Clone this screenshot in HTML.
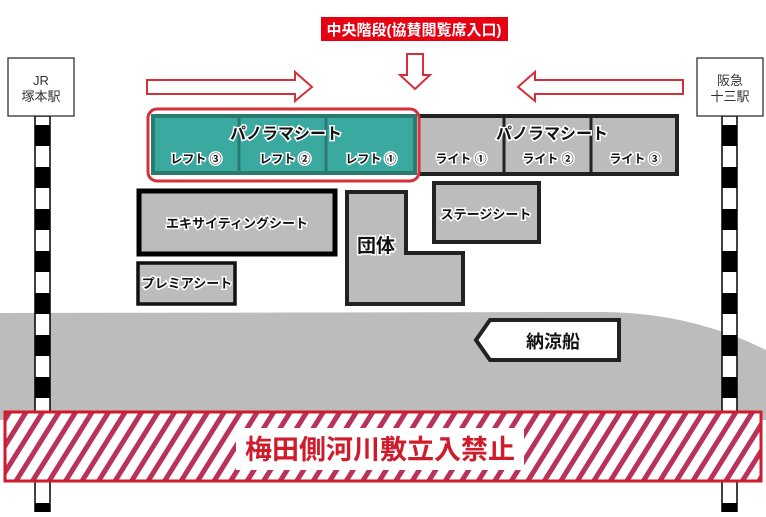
<!DOCTYPE html>
<html><head><meta charset="utf-8"><style>
body{margin:0;background:#fff;}
svg text{font-family:"Liberation Sans","Noto Sans CJK JP",sans-serif;}
</style></head><body>
<svg width="766" height="512" viewBox="0 0 766 512" xmlns="http://www.w3.org/2000/svg">
<defs>
<pattern id="st" width="14" height="14" patternUnits="userSpaceOnUse" patternTransform="rotate(32)">
<rect width="14" height="14" fill="#fff"/><rect width="5" height="14" fill="#b8325a"/>
</pattern>
<pattern id="pole" width="16" height="42" patternUnits="userSpaceOnUse" y="125">
<rect width="16" height="42" fill="#fff"/><rect width="16" height="21" fill="#000"/>
</pattern>
</defs>
<!-- river -->
<path d="M0 313 L600 312 Q690 312 766 350 L766 420 L0 420 Z" fill="#bcbcbc"/>
<!-- poles -->
<rect x="35" y="116" width="15" height="396" fill="url(#pole)" stroke="#000" stroke-width="1.5"/>
<rect x="722" y="116" width="15" height="396" fill="url(#pole)" stroke="#000" stroke-width="1.5"/>
<!-- station boxes -->
<rect x="8" y="58" width="66" height="58" fill="#fff" stroke="#222" stroke-width="1.2"/>
<text x="41" y="85" font-size="13" text-anchor="middle" fill="#333">JR</text>
<text x="41" y="101" font-size="13" text-anchor="middle" fill="#333">塚本駅</text>
<rect x="697" y="58" width="66" height="58" fill="#fff" stroke="#222" stroke-width="1.2"/>
<text x="730" y="85" font-size="13" text-anchor="middle" fill="#333">阪急</text>
<text x="730" y="101" font-size="13" text-anchor="middle" fill="#333">十三駅</text>
<!-- top label -->
<rect x="321" y="17" width="187" height="24" fill="#e60012"/>
<text x="414" y="35" font-size="15" font-weight="bold" text-anchor="middle" fill="#fff">中央階段(協賛閲覧席入口)</text>
<!-- arrows -->
<path d="M147 80 H295 V72 L312 87 L295 101 V94 H147 Z" fill="#fff" stroke="#d3303a" stroke-width="2"/>
<path d="M683 80 H535 V72 L518 87 L535 101 V94 H683 Z" fill="#fff" stroke="#d3303a" stroke-width="2"/>
<path d="M407 54 H423 V75 L430 75 L415 89 L400 75 L407 75 Z" fill="#fff" stroke="#d3303a" stroke-width="2"/>
<!-- gray panorama -->
<rect x="418" y="116" width="259" height="58" fill="#bcbcbc" stroke="#222" stroke-width="4"/>
<line x1="504" y1="116" x2="504" y2="174" stroke="#222" stroke-width="3"/>
<line x1="591" y1="116" x2="591" y2="174" stroke="#222" stroke-width="3"/>
<g font-size="16" font-weight="bold" fill="#111" stroke="#fff" stroke-width="3" paint-order="stroke" text-anchor="middle">
<text x="552" y="139">パノラマシート</text>
<text x="461" y="163" font-size="12">ライト ①</text>
<text x="548" y="163" font-size="12">ライト ②</text>
<text x="635" y="163" font-size="12">ライト ③</text>
</g>
<!-- teal panorama -->
<rect x="148" y="109" width="271" height="72" rx="9" fill="#fff" stroke="#d3303a" stroke-width="3"/>
<rect x="153" y="116" width="262" height="57" fill="#3aa9a0" stroke="#2a7a70" stroke-width="4"/>
<line x1="239" y1="116" x2="239" y2="173" stroke="#2a7a70" stroke-width="3"/>
<line x1="326" y1="116" x2="326" y2="173" stroke="#2a7a70" stroke-width="3"/>
<g font-size="16" font-weight="bold" fill="#111" stroke="#fff" stroke-width="3" paint-order="stroke" text-anchor="middle">
<text x="286" y="139">パノラマシート</text>
<text x="196" y="163" font-size="12">レフト ③</text>
<text x="285" y="163" font-size="12">レフト ②</text>
<text x="371" y="163" font-size="12">レフト ①</text>
</g>
<!-- seats -->
<rect x="139" y="191" width="196" height="63" fill="#bcbcbc" stroke="#000" stroke-width="5"/>
<rect x="138" y="263" width="97" height="41" fill="#bcbcbc" stroke="#111" stroke-width="3.5"/>
<path d="M347 192 H406 V253 H463 V304 H347 Z" fill="#bcbcbc" stroke="#222" stroke-width="4"/>
<rect x="434" y="183" width="105" height="59" fill="#bcbcbc" stroke="#222" stroke-width="4"/>
<g font-weight="bold" fill="#111" stroke="#fff" stroke-width="3" paint-order="stroke" text-anchor="middle">
<text x="237" y="228" font-size="13">エキサイティングシート</text>
<text x="187" y="288" font-size="13">プレミアシート</text>
<text x="376" y="252" font-size="19">団体</text>
<text x="486" y="219" font-size="13">ステージシート</text>
</g>
<!-- boat -->
<path d="M490 320 H619 V360 H490 L476 340 Z" fill="#fff" stroke="#222" stroke-width="4"/>
<text x="553" y="348" font-size="18" font-weight="bold" text-anchor="middle" fill="#111">納涼船</text>
<!-- hatched band -->
<rect x="5" y="412" width="756" height="69" fill="url(#st)" stroke="#cf1b2b" stroke-width="3"/>
<rect x="236" y="428" width="288" height="42" fill="#fff"/>
<text x="380" y="459" font-size="27" font-weight="bold" text-anchor="middle" fill="#cf1b2b">梅田側河川敷立入禁止</text>
</svg>
</body></html>
